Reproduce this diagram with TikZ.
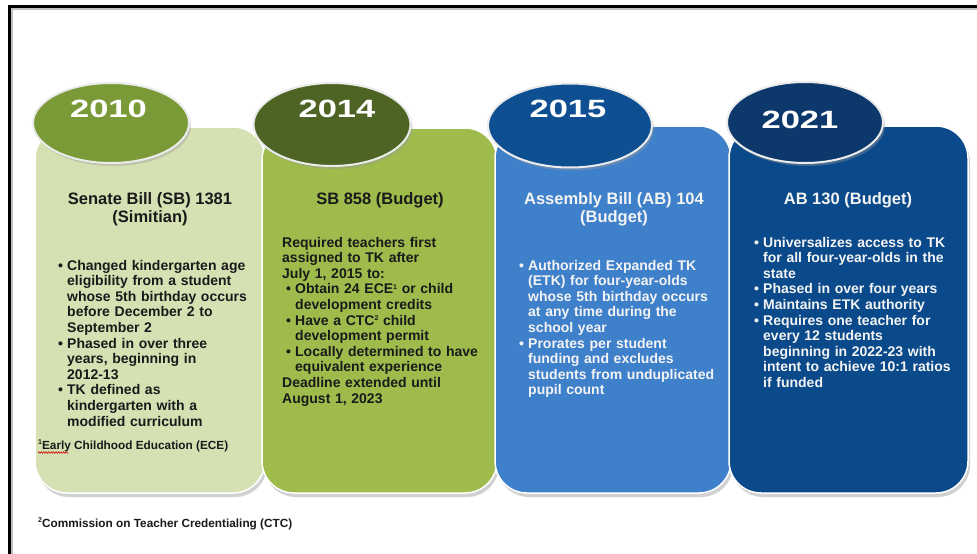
\documentclass[tikz,border=0pt]{standalone}
\usepackage{fontspec}
\setmainfont{Liberation Sans}
\usetikzlibrary{shapes.geometric,decorations.pathmorphing}
\definecolor{pone}{HTML}{D5E1B3}
\definecolor{ptwo}{HTML}{9EBB4C}
\definecolor{pthree}{HTML}{3F80CB}
\definecolor{pfour}{HTML}{0B4A8A}
\definecolor{eone}{HTML}{7A9A38}
\definecolor{etwo}{HTML}{4E6424}
\definecolor{ethree}{HTML}{0E4F91}
\definecolor{efour}{HTML}{0C386B}
\definecolor{txtdark}{HTML}{1A1A1A}
\definecolor{txtlight}{HTML}{F4F4F4}
\newcommand\bitem[2][0pt]{\hangindent=\dimexpr#1+9pt\relax\hangafter=1\noindent\hspace*{#1}\makebox[9pt][l]{\textbullet}#2\par}
\newcommand\smallsup[1]{\raisebox{4.5pt}{\fontsize{7}{7}\selectfont #1}}
\tikzset{
  panel/.style={draw=white, line width=1.5pt, rounded corners=32pt},
  pshadow/.style={fill=black!40, opacity=0.45, rounded corners=32pt},
  yearell/.style={ellipse, draw=black!8, line width=2pt, inner sep=0pt},
  ellshadow/.style={ellipse, fill=black!40, opacity=0.4, inner sep=0pt},
  yeartxt/.style={font=\fontsize{25}{25}\selectfont\bfseries, text=white, anchor=base, inner sep=0pt},
  ttl/.style={font=\fontsize{16.5}{17.7}\selectfont\bfseries, anchor=base, inner sep=0pt},
  body/.style={font=\fontsize{14}{15.6}\selectfont\bfseries, anchor=base west, inner sep=0pt, text width=#1, align=left},
  fnote/.style={font=\fontsize{11.8}{13}\selectfont\bfseries, anchor=base west, inner sep=0pt, text=txtdark},
  squiggle/.style={draw=red!80!black, line width=0.6pt, decorate, decoration={zigzag, amplitude=0.8pt, segment length=2.5pt}},
}
\begin{document}
\begin{tikzpicture}[x=1pt,y=-1pt]
\useasboundingbox (0,0) rectangle (977,554);
\fill[white] (0,0) rectangle (977,554);
% frame
\draw[black!25, line width=1.5pt] (12,554) -- (12,9) -- (977,9);
\draw[black, line width=2.5pt] (9.5,554) -- (9.5,6.5) -- (977,6.5);

% panels
\fill[pshadow] (37,131) rectangle (267,497);
\filldraw[panel, fill=pone] (35,127) rectangle (265,493);
\fill[pshadow] (264,132) rectangle (499,497);
\filldraw[panel, fill=ptwo] (262,128) rectangle (497,493);
\fill[pshadow] (497,130) rectangle (733,497);
\filldraw[panel, fill=pthree] (495,126) rectangle (731,493);
\fill[pshadow] (731,130) rectangle (970,497);
\filldraw[panel, fill=pfour] (729,126) rectangle (968,493);

% ellipses
\node[ellshadow, minimum width=156pt, minimum height=80pt] (s1) at (113,126) {};
\node[yearell, fill=eone, minimum width=156pt, minimum height=80pt] (e1) at (111,123) {};
\node[ellshadow, minimum width=157pt, minimum height=83pt] (s2) at (334,127.5) {};
\node[yearell, fill=etwo, minimum width=157pt, minimum height=83pt] (e2) at (332,124.5) {};
\node[ellshadow, minimum width=164pt, minimum height=84pt] (s3) at (572,128.5) {};
\node[yearell, fill=ethree, minimum width=164pt, minimum height=84pt] (e3) at (570,125.5) {};
\node[ellshadow, minimum width=156pt, minimum height=81pt] (s4) at (807,125.5) {};
\node[yearell, fill=efour, minimum width=156pt, minimum height=81pt] (e4) at (805,122.5) {};

\node[yeartxt] (y1) at (108.5,117) {\scalebox{1.38}[1]{2010}};
\node[yeartxt] (y2) at (337,117) {\scalebox{1.38}[1]{2014}};
\node[yeartxt] (y3) at (568,117) {\scalebox{1.38}[1]{2015}};
\node[yeartxt] (y4) at (800,128) {\scalebox{1.38}[1]{2021}};

% titles
\node[ttl, text=txtdark] (t1a) at (150,204) {Senate Bill (SB) 1381};
\node[ttl, text=txtdark] (t1b) at (150,222) {(Simitian)};
\node[ttl, text=txtdark] (t2a) at (380,204) {SB 858 (Budget)};
\node[ttl, text=txtlight] (t3a) at (614,204) {Assembly Bill (AB) 104};
\node[ttl, text=txtlight] (t3b) at (614,222) {(Budget)};
\node[ttl, text=txtlight] (t4a) at (848,204) {AB 130 (Budget)};

% bodies
\node[body=200pt, text=txtdark] (b1) at (58,270) {%
\bitem{Changed kindergarten age\newline eligibility from a student\newline whose 5th birthday occurs\newline before December 2 to\newline September 2}%
\bitem{Phased in over three\newline years, beginning in\newline 2012-13}%
\bitem{TK defined as\newline kindergarten with a\newline modified curriculum}};

\node[body=212pt, text=txtdark] (b2) at (282,247) {%
\noindent Required teachers first\newline assigned to TK after\newline July 1, 2015 to:\par
\bitem[4pt]{Obtain 24 ECE\smallsup{1} or child\newline development credits}%
\bitem[4pt]{Have a CTC\smallsup{2} child\newline development permit}%
\bitem[4pt]{Locally determined to have\newline equivalent experience}%
\noindent Deadline extended until\newline August 1, 2023\par};

\node[body=208pt, text=txtlight] (b3) at (519,270) {%
\bitem{Authorized Expanded TK\newline (ETK) for four-year-olds\newline whose 5th birthday occurs\newline at any time during the\newline school year}%
\bitem{Prorates per student\newline funding and excludes\newline students from unduplicated\newline pupil count}};

\node[body=210pt, text=txtlight] (b4) at (754,247) {%
\bitem{Universalizes access to TK\newline for all four-year-olds in the\newline state}%
\bitem{Phased in over four years}%
\bitem{Maintains ETK authority}%
\bitem{Requires one teacher for\newline every 12 students\newline beginning in 2022-23 with\newline intent to achieve 10:1 ratios\newline if funded}};

% footnotes
\node[fnote] (f1) at (38,449) {\smallsup{1}Early Childhood Education (ECE)};
\coordinate (sqa) at (38,452.5);
\coordinate (sqb) at (68,452.5);
\draw[squiggle] (sqa) -- (sqb);
\node[fnote] (f2) at (38,527) {\smallsup{2}Commission on Teacher Credentialing (CTC)};
\end{tikzpicture}
\end{document}
